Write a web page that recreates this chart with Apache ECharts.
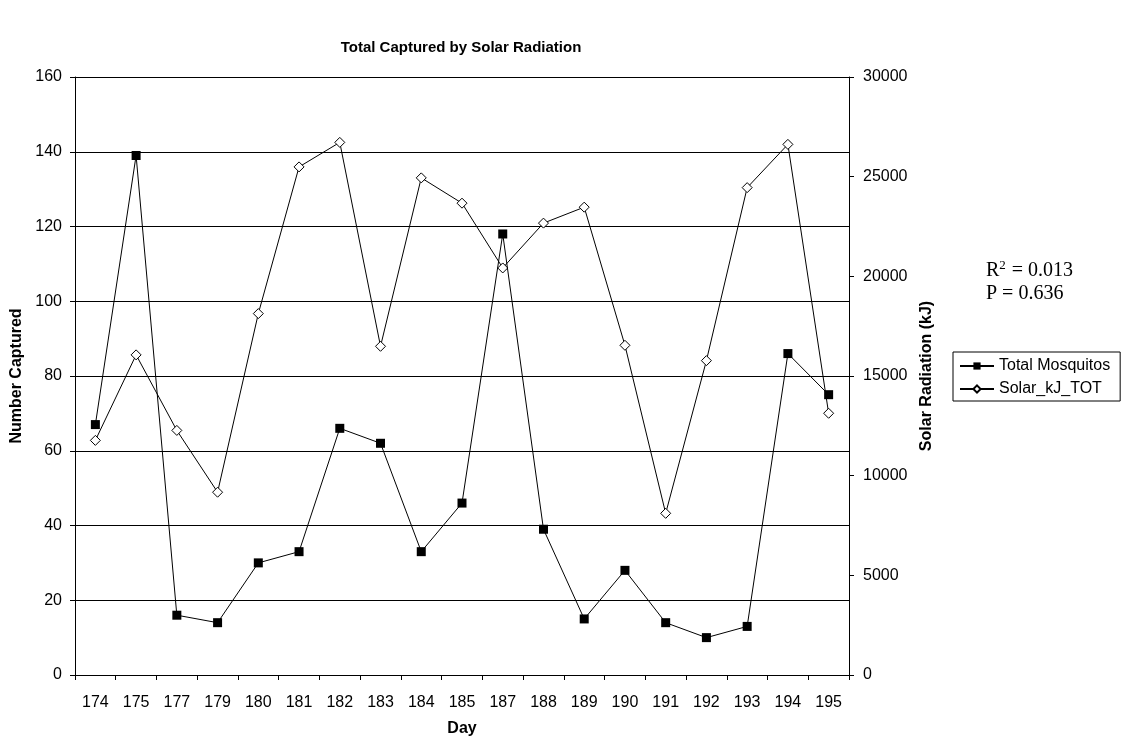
<!DOCTYPE html>
<html>
<head>
<meta charset="utf-8">
<script src="https://cdn.jsdelivr.net/npm/echarts@6/dist/echarts.min.js"></script>
<style>
  html, body { margin: 0; padding: 0; background: #fff; }
  #chart { width: 1122px; height: 742px; }
</style>
</head>
<body>
<div id="chart"></div>
<script>
// day of year
var days = ['174', '175', '177', '179', '180', '181', '182', '183', '184', '185',
  '187', '188', '189', '190', '191', '192', '193', '194', '195']
// number of mosquitos captured
var mosquitos = [67, 139, 16, 14, 30, 33, 66, 62, 33, 46, 118, 39, 15, 28, 14, 10, 13, 86, 75]
// total solar radiation (kJ)
var solar = [11770, 16060, 12270, 9170, 18130, 25490, 26720, 16490, 24940, 23670,
  20420, 22670, 23470, 16540, 8110, 15770, 24450, 26620, 13130]

var FONT = 'Liberation Sans, Arial, sans-serif'
var SERIF = 'Liberation Serif, Times New Roman, serif'
var chart = echarts.init(document.getElementById('chart'))

chart.setOption({
  animation: false,
  textStyle: { fontFamily: FONT, color: '#000' },
  title: [
    {
      text: 'Total Captured by Solar Radiation',
      left: 461,
      top: 40,
      padding: 0,
      textAlign: 'center',
      textStyle: { fontFamily: FONT, fontSize: 15, fontWeight: 'bold', color: '#000' }
    },
    {
      // regression stats
      text: '{t|R}{s|2}{t| = 0.013}\n{t|P = 0.636}',
      left: 986,
      top: 259,
      padding: 0,
      textStyle: {
        fontWeight: 'normal',
        rich: {
          t: { fontFamily: SERIF, fontSize: 20, fontWeight: 'normal', color: '#000', lineHeight: 23 },
          s: { fontFamily: SERIF, fontSize: 13, fontWeight: 'normal', color: '#000', lineHeight: 23, verticalAlign: 'top', padding: [0, 1, 6, 0] }
        }
      }
    }
  ],
  legend: {
    orient: 'vertical',
    left: 953,
    top: 352,
    padding: [5, 10, 3, 6],
    itemGap: 5,
    itemWidth: 34,
    itemHeight: 9,
    borderColor: '#000',
    borderWidth: 1,
    textStyle: { fontFamily: FONT, fontSize: 16, lineHeight: 18, color: '#000' },
    data: ['Total Mosquitos', 'Solar_kJ_TOT']
  },
  grid: { left: 75, right: 273, top: 77, bottom: 66 },
  xAxis: {
    type: 'category',
    data: days,
    name: 'Day',
    nameLocation: 'middle',
    nameGap: 46,
    nameTextStyle: { fontFamily: FONT, fontSize: 16, fontWeight: 'bold', color: '#000' },
    axisLine: { lineStyle: { color: '#000', width: 1 } },
    axisTick: { show: true, length: 5, lineStyle: { color: '#000' } },
    axisLabel: { fontFamily: FONT, fontSize: 16, color: '#000', margin: 20, interval: 0 }
  },
  yAxis: [
    {
      type: 'value',
      min: 0,
      max: 160,
      interval: 20,
      name: 'Number Captured',
      nameLocation: 'middle',
      nameGap: 49,
      nameRotate: 90,
      nameTextStyle: { fontFamily: FONT, fontSize: 16, fontWeight: 'bold', color: '#000' },
      axisLine: { show: true, lineStyle: { color: '#000', width: 1 } },
      axisTick: { show: true, length: 5, lineStyle: { color: '#000' } },
      axisLabel: { fontFamily: FONT, fontSize: 16, color: '#000', margin: 13 },
      splitLine: { show: true, lineStyle: { color: '#000', width: 1 } }
    },
    {
      type: 'value',
      min: 0,
      max: 30000,
      interval: 5000,
      position: 'right',
      name: 'Solar Radiation (kJ)',
      nameLocation: 'middle',
      nameGap: 68,
      nameRotate: 90,
      nameTextStyle: { fontFamily: FONT, fontSize: 16, fontWeight: 'bold', color: '#000' },
      axisLine: { show: true, lineStyle: { color: '#000', width: 1 } },
      axisTick: { show: true, length: 5, lineStyle: { color: '#000' } },
      axisLabel: {
        fontFamily: FONT, fontSize: 16, color: '#000', margin: 14,
        formatter: function (v) { return String(v) }
      },
      splitLine: { show: false }
    }
  ],
  series: [
    {
      name: 'Total Mosquitos',
      type: 'line',
      yAxisIndex: 0,
      data: mosquitos,
      symbol: 'rect',
      symbolSize: 9,
      itemStyle: { color: '#000', borderColor: '#000', borderWidth: 0 },
      lineStyle: { color: '#000', width: 1 },
      z: 3
    },
    {
      name: 'Solar_kJ_TOT',
      type: 'line',
      yAxisIndex: 1,
      data: solar,
      symbol: 'diamond',
      symbolSize: 10,
      itemStyle: { color: '#fff', borderColor: '#000', borderWidth: 1 },
      lineStyle: { color: '#000', width: 1 },
      z: 2
    }
  ]
})
</script>
</body>
</html>
